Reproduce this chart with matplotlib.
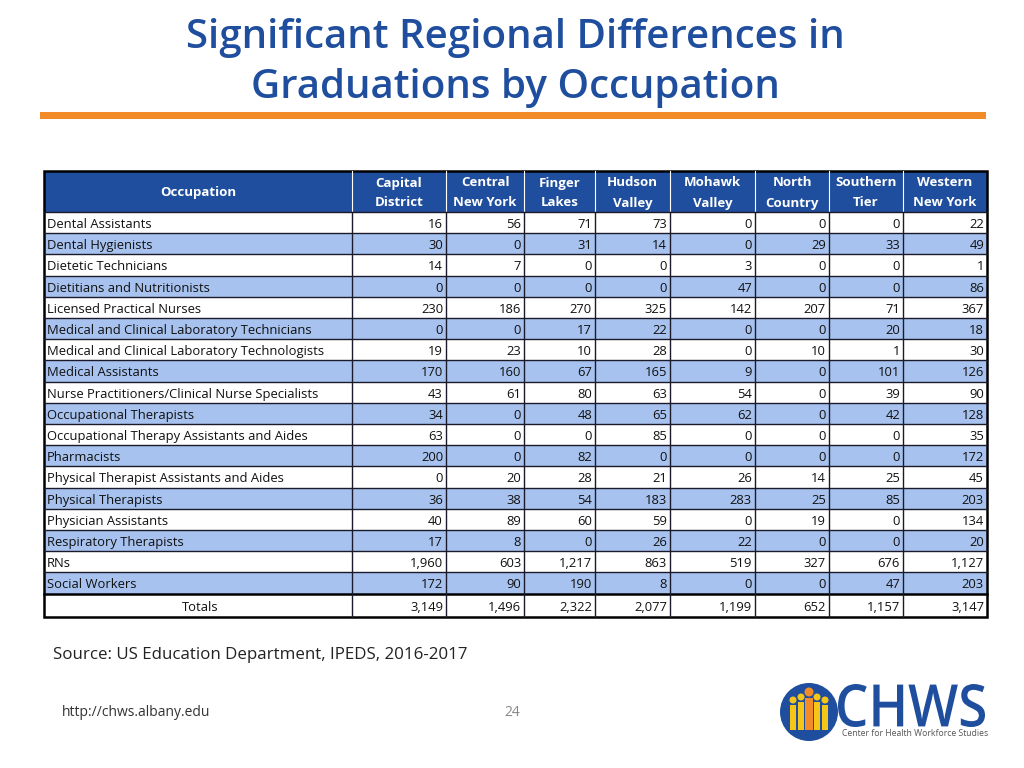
import matplotlib.pyplot as plt
from matplotlib.patches import Rectangle, Circle, PathPatch
from matplotlib.textpath import TextPath
from matplotlib.font_manager import FontProperties
from matplotlib.transforms import Affine2D

plt.rcParams['font.family'] = ['Open Sans', 'DejaVu Sans']

regions = ["Capital\nDistrict", "Central\nNew York", "Finger\nLakes", "Hudson\nValley",
           "Mohawk\nValley", "North\nCountry", "Southern\nTier", "Western\nNew York"]
occupations = [
    "Dental Assistants", "Dental Hygienists", "Dietetic Technicians",
    "Dietitians and Nutritionists", "Licensed Practical Nurses",
    "Medical and Clinical Laboratory Technicians",
    "Medical and Clinical Laboratory Technologists", "Medical Assistants",
    "Nurse Practitioners/Clinical Nurse Specialists", "Occupational Therapists",
    "Occupational Therapy Assistants and Aides", "Pharmacists",
    "Physical Therapist Assistants and Aides", "Physical Therapists",
    "Physician Assistants", "Respiratory Therapists", "RNs", "Social Workers",
]
values = [
    [16, 56, 71, 73, 0, 0, 0, 22],
    [30, 0, 31, 14, 0, 29, 33, 49],
    [14, 7, 0, 0, 3, 0, 0, 1],
    [0, 0, 0, 0, 47, 0, 0, 86],
    [230, 186, 270, 325, 142, 207, 71, 367],
    [0, 0, 17, 22, 0, 0, 20, 18],
    [19, 23, 10, 28, 0, 10, 1, 30],
    [170, 160, 67, 165, 9, 0, 101, 126],
    [43, 61, 80, 63, 54, 0, 39, 90],
    [34, 0, 48, 65, 62, 0, 42, 128],
    [63, 0, 0, 85, 0, 0, 0, 35],
    [200, 0, 82, 0, 0, 0, 0, 172],
    [0, 20, 28, 21, 26, 14, 25, 45],
    [36, 38, 54, 183, 283, 25, 85, 203],
    [40, 89, 60, 59, 0, 19, 0, 134],
    [17, 8, 0, 26, 22, 0, 0, 20],
    [1960, 603, 1217, 863, 519, 327, 676, 1127],
    [172, 90, 190, 8, 0, 0, 47, 203],
]
totals = [3149, 1496, 2322, 2077, 1199, 652, 1157, 3147]

BLUE = '#1F4E9E'
LIGHT = '#A7C2EE'
ORANGE = '#F28C28'

fig = plt.figure(figsize=(10.24, 7.68), dpi=100)
ax = fig.add_axes([0, 0, 1, 1])
ax.set_xlim(0, 1024)
ax.set_ylim(768, 0)
ax.set_axis_off()

# title + orange rule
ax.text(515, 38, "Significant Regional Differences in", ha='center', va='center',
        fontsize=29, fontweight='semibold', color=BLUE)
ax.text(515, 88, "Graduations by Occupation", ha='center', va='center',
        fontsize=29, fontweight='semibold', color=BLUE)
ax.add_patch(Rectangle((40, 112), 946, 7, color=ORANGE, lw=0))

# table geometry
col_x = [44, 352, 446, 524, 595, 670, 755, 829, 903, 987]
top, head_bot = 171, 212
row_h = 21.2
tot_top = head_bot + row_h * len(occupations)
tot_bot = tot_top + 23

# header
ax.add_patch(Rectangle((col_x[0], top), col_x[-1] - col_x[0], head_bot - top,
                       color=BLUE, lw=0))
ax.text((col_x[0] + col_x[1]) / 2, 196, "Occupation", ha='center',
        va='baseline', color='white', fontsize=9.5, fontweight='bold')
for j, r in enumerate(regions):
    cx = (col_x[j + 1] + col_x[j + 2]) / 2
    l1, l2 = r.split("\n")
    ax.text(cx, top + 15.5, l1, ha='center', va='baseline', color='white',
            fontsize=9.5, fontweight='bold')
    ax.text(cx, top + 35.5, l2, ha='center', va='baseline', color='white',
            fontsize=9.5, fontweight='bold')
    ax.plot([col_x[j + 1]] * 2, [top, head_bot], color='white', lw=0.8)

# data rows
for i, (occ, vals) in enumerate(zip(occupations, values)):
    y0 = head_bot + i * row_h
    fc = LIGHT if i % 2 == 1 else 'white'
    ax.add_patch(Rectangle((col_x[0], y0), col_x[-1] - col_x[0], row_h, color=fc, lw=0))
    yb = y0 + 16
    ax.text(col_x[0] + 3, yb, occ, ha='left', va='baseline', fontsize=9.4,
            color='#111111')
    for j, v in enumerate(vals):
        ax.text(col_x[j + 2] - 3, yb, f"{v:,}", ha='right', va='baseline',
                fontsize=9.4, color='#111111')
    ax.plot([col_x[0], col_x[-1]], [y0, y0], color='#1a1a2a', lw=1.0)

# totals row
yb = tot_top + 17
ax.text(200, yb, "Totals", ha='center', va='baseline', fontsize=9.4, color='#111111')
for j, v in enumerate(totals):
    ax.text(col_x[j + 2] - 3, yb, f"{v:,}", ha='right', va='baseline',
            fontsize=9.4, color='#111111')
ax.plot([col_x[0], col_x[-1]], [tot_top, tot_top], color='black', lw=1.8)

# vertical lines in body
for x in col_x[1:-1]:
    ax.plot([x, x], [head_bot, tot_bot], color='#1a1a2a', lw=1.0)

# outer border
ax.add_patch(Rectangle((col_x[0], top), col_x[-1] - col_x[0], tot_bot - top,
                       fill=False, ec='black', lw=1.8))

# footer
ax.text(53, 655, "Source: US Education Department, IPEDS, 2016-2017", ha='left',
        va='center', fontsize=12.2, color='#222222')
ax.text(62, 712, "http://chws.albany.edu", ha='left', va='center', fontsize=10,
        color='#333333')
ax.text(512, 712, "24", ha='center', va='center', fontsize=10, color='#888888')

# logo: circle with people
cx0, cy0 = 809, 712
ax.add_patch(Circle((cx0, cy0), 29, color=BLUE, lw=0))
for dx, top_y, c in [(-16, 700, '#F5C518'), (-8, 697, '#F5C518'), (8, 697, '#F5C518'),
                     (16, 700, '#F5C518'), (0, 692, ORANGE)]:
    r = 4.5 if dx == 0 else 3.5
    w = 8 if dx == 0 else 6
    ax.add_patch(Circle((cx0 + dx, top_y), r, color=c, lw=0))
    ax.add_patch(Rectangle((cx0 + dx - w / 2, top_y + r + 1), w, 730 - top_y - r - 1,
                           color=c, lw=0))

# logo: CHWS wordmark (condensed by scaling a text path)
tp = TextPath((0, 0), "CHWS", size=60, prop=FontProperties(family='Open Sans',
                                                          weight='semibold'))
bb = tp.get_extents()
sx = 147 / bb.width
sy = 43 / bb.height
trans = Affine2D().translate(-bb.x0, -bb.y0).scale(sx, -sy).translate(838, 727)
ax.add_patch(PathPatch(trans.transform_path(tp), color=BLUE, lw=0))
ax.text(842, 734, "Center for Health Workforce Studies", ha='left', va='center',
        fontsize=6.2, color='#555555')

fig.savefig("out.png", dpi=100)
